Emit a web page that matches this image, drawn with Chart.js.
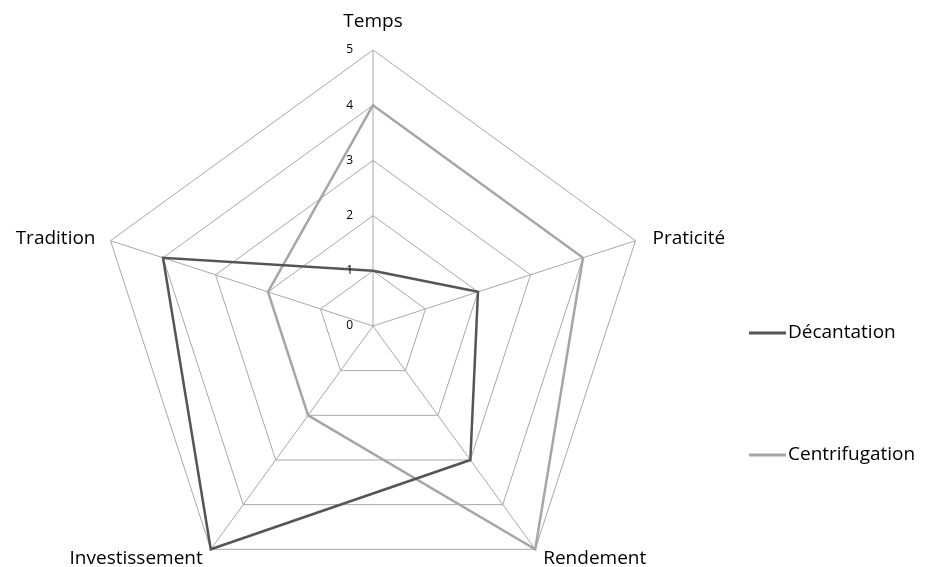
<!DOCTYPE html>
<html>
<head>
<meta charset="utf-8">
<script src="https://cdn.jsdelivr.net/npm/chart.js@4"></script>
<style>
  html, body { margin: 0; padding: 0; background: #fff; }
  #wrap { width: 930px; height: 567px; overflow: hidden; }
</style>
</head>
<body>
<div id="wrap"><canvas id="radar" width="930" height="602"></canvas></div>
<script>
// Données du graphique
const criteres = ['Temps', 'Praticité', 'Rendement', 'Investissement', 'Tradition'];
const decantation = [1, 2, 3, 5, 4];
const centrifugation = [4, 4, 5, 2, 2];
const graduations = [0, 1, 2, 3, 4, 5];

const FONT = '"Open Sans", Lato, sans-serif';

// Graduations dessinées à gauche de l'axe vertical
const tickPlugin = {
    id: 'tickLabels',
    afterDraw(chart) {
        const scale = chart.scales.r;
        const ctx = chart.ctx;
        ctx.save();
        ctx.font = '12px ' + FONT;
        ctx.fillStyle = '#000';
        ctx.textAlign = 'right';
        ctx.textBaseline = 'middle';
        graduations.forEach(v => {
            const d = scale.getDistanceFromCenterForValue(v);
            ctx.fillText(String(v), scale.xCenter - 20, scale.yCenter - d);
        });
        ctx.restore();
    }
};

// Libellés des axes placés autour des sommets du pentagone
const axisLabelPlugin = {
    id: 'axisLabels',
    afterDraw(chart) {
        const scale = chart.scales.r;
        const ctx = chart.ctx;
        ctx.save();
        ctx.font = '19px ' + FONT;
        ctx.fillStyle = '#000';
        ctx.textBaseline = 'alphabetic';
        criteres.forEach((txt, i) => {
            const p = scale.getPointPosition(i, scale.drawingArea);
            const dx = p.x - scale.xCenter;
            const dy = p.y - scale.yCenter;
            if (Math.abs(dx) < 1) {
                ctx.textAlign = 'center';
                ctx.fillText(txt, p.x, p.y - 23);
            } else if (dy < 0) {
                ctx.textAlign = dx > 0 ? 'left' : 'right';
                ctx.fillText(txt, p.x + (dx > 0 ? 17 : -15), p.y + 3);
            } else {
                ctx.textAlign = dx > 0 ? 'left' : 'right';
                ctx.fillText(txt, p.x + (dx > 0 ? 8 : -8), p.y + 15);
            }
        });
        ctx.restore();
    }
};

// Légende à droite, deux entrées très espacées
const legendPlugin = {
    id: 'sideLegend',
    afterDraw(chart) {
        const ctx = chart.ctx;
        const rows = [333, 455];
        ctx.save();
        ctx.font = '19px ' + FONT;
        ctx.textBaseline = 'middle';
        chart.data.datasets.forEach((ds, i) => {
            const y = rows[i];
            ctx.strokeStyle = ds.borderColor;
            ctx.lineWidth = 3;
            ctx.beginPath();
            ctx.moveTo(749, y);
            ctx.lineTo(786, y);
            ctx.stroke();
            ctx.fillStyle = '#000';
            ctx.fillText(ds.label, 788, y);
        });
        ctx.restore();
    }
};

new Chart(document.getElementById('radar'), {
    type: 'radar',
    data: {
        labels: criteres,
        datasets: [
            {
                label: 'Décantation',
                data: decantation,
                borderColor: '#555555',
                borderWidth: 2.5,
                fill: false,
                pointRadius: 0,
            },
            {
                label: 'Centrifugation',
                data: centrifugation,
                borderColor: '#a6a6a6',
                borderWidth: 2.5,
                fill: false,
                pointRadius: 0,
            }
        ],
    },
    options: {
        responsive: false,
        animation: false,
        layout: { padding: { left: 0, right: 184, top: 50, bottom: 0 } },
        plugins: {
            legend: { display: false },
            tooltip: { enabled: false },
        },
        elements: { line: { tension: 0 } },
        scales: {
            r: {
                min: 0,
                max: 5,
                ticks: { stepSize: 1, display: false },
                grid: { color: '#a8a8a8', lineWidth: 1 },
                angleLines: { color: '#a8a8a8', lineWidth: 1 },
                pointLabels: { display: false },
            },
        },
    },
    plugins: [tickPlugin, axisLabelPlugin, legendPlugin],
});
</script>
</body>
</html>
